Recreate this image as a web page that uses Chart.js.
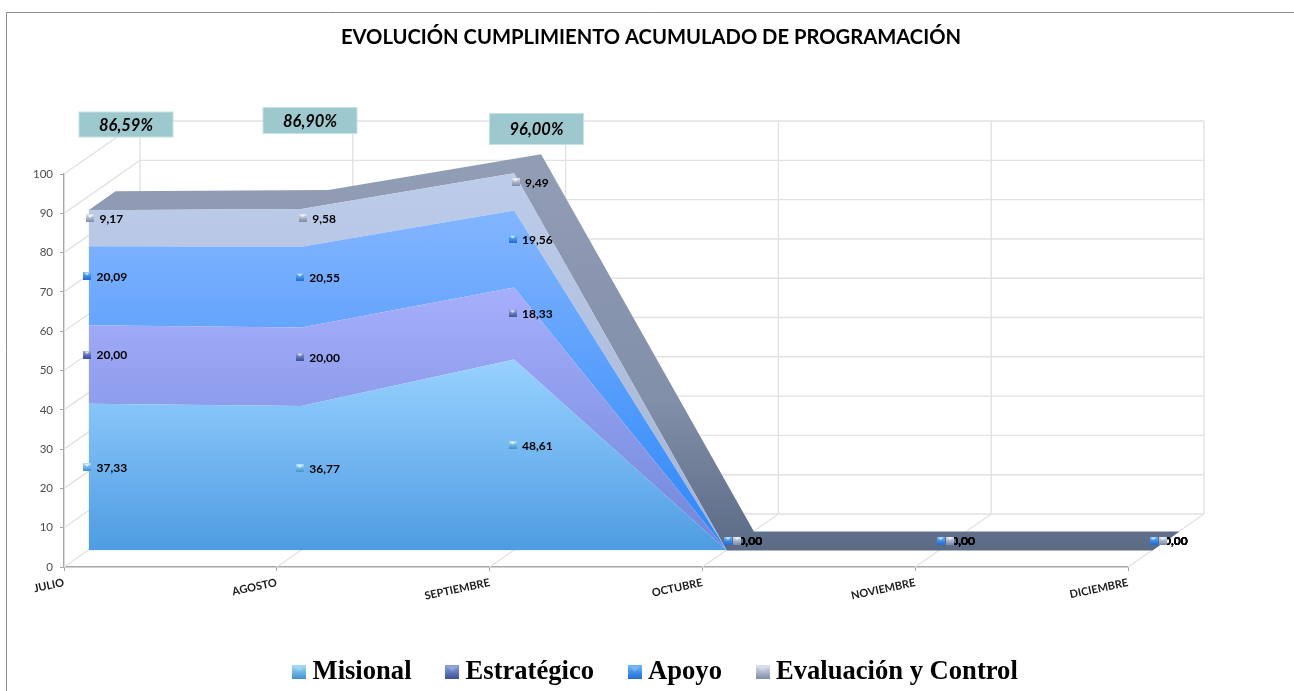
<!DOCTYPE html>
<html>
<head>
<meta charset="utf-8">
<title>Evolución cumplimiento</title>
<script src="https://cdn.jsdelivr.net/npm/chart.js@4"></script>
<style>
    html, body { margin: 0; padding: 0; background: #fff; }
    canvas { display: block; }
</style>
</head>
<body>
<canvas id="myChart" width="1294" height="691"></canvas>
<script>
/*----------------------------- data ----------------------------*/
const months = ['JULIO', 'AGOSTO', 'SEPTIEMBRE', 'OCTUBRE', 'NOVIEMBRE', 'DICIEMBRE'];
const misional = [37.33, 36.77, 48.61, 0, 0, 0];
const estrategico = [20.00, 20.00, 18.33, 0, 0, 0];
const apoyo = [20.09, 20.55, 19.56, 0, 0, 0];
const evaluacion = [9.17, 9.58, 9.49, 0, 0, 0];
const totalLabels = ['86,59%', '86,90%', '96,00%'];
const seriesNames = ['Misional', 'Estratégico', 'Apoyo', 'Evaluación y Control'];

/*---------------------------- styles ---------------------------*/
// fake 3d: the scales sit on the front of the box, everything else is shifted from them
const areaShift = { x: 24.5, y: -16.5 };
const ribbonDepth = { x: 27, y: -19 };
const wallShift = { x: 76, y: -53 };
const wallColor = '#e2e2e2';
const faceColors = [
    ['#98d1ff', '#4e9ce2'],
    ['#a6affc', '#6f86d8'],
    ['#83b5ff', '#2b86f8'],
    ['#bdcce9', '#a3b3d3']
];
const markerColors = [
    ['#a4dcf8', '#3f8fcb'],
    ['#8fa3e0', '#3c4e96'],
    ['#6cb6f6', '#1f6cd8'],
    ['#dde3ee', '#7d8aa9']
];
const markerDx = [23, 23, 23, 26];
const zeroMarkerDx = [25.5, 25.5, 25.5, 34.7];
const markerLift = -26.5;
// label boxes over the first three months
const boxes = [
    { x: 79, y: 112, w: 94, h: 25 },
    { x: 263, y: 107.5, w: 94, h: 26 },
    { x: 489.5, y: 113.5, w: 94, h: 31 }
];

function makeMarker(size, colors, shine) {
    const c = document.createElement('canvas');
    c.width = size;
    c.height = size;
    const g = c.getContext('2d');
    const grad = g.createLinearGradient(0, 0, 0, size);
    grad.addColorStop(0, colors[0]);
    grad.addColorStop(1, colors[1]);
    g.fillStyle = grad;
    g.fillRect(0, 0, size, size);
    // little shine at the top
    g.fillStyle = 'rgba(255,255,255,' + shine + ')';
    g.beginPath();
    g.moveTo(size * 0.12, size * 0.1);
    g.lineTo(size * 0.88, size * 0.1);
    g.lineTo(size * 0.5, size * 0.45);
    g.closePath();
    g.fill();
    return c;
}

function faceGradient(index) {
    return function (ctx) {
        const chart = ctx.chart;
        if (!chart.chartArea) return faceColors[index][0];
        const yScale = chart.scales.y;
        // the gradient runs from the highest top of this layer to the floor
        let top = 0;
        allSeries[0].forEach(function (v, i) {
            let sum = 0;
            for (let s = 0; s <= index; s++) sum += allSeries[s][i];
            top = Math.max(top, sum);
        });
        const grad = chart.ctx.createLinearGradient(0, yScale.getPixelForValue(top), 0, yScale.getPixelForValue(0));
        grad.addColorStop(0, faceColors[index][0]);
        grad.addColorStop(1, faceColors[index][1]);
        return grad;
    };
}

const allSeries = [misional, estrategico, apoyo, evaluacion];

/*---------------------------- plugin ---------------------------*/
const boxPlugin = {
    id: 'box3d',
    afterLayout(chart) {
        // title and legend are not centred on the canvas in the original
        chart.titleBlock.left += 87;
        chart.titleBlock.right += 87;
        chart.legend.left += 94.5;
        chart.legend.right += 94.5;
        chart.legend.top += 4.5;
        chart.legend.bottom += 4.5;
    },
    beforeDatasetsDraw(chart) {
        const ctx = chart.ctx;
        const x = chart.scales.x;
        const y = chart.scales.y;
        const y0 = y.getPixelForValue(0);
        const y100 = y.getPixelForValue(100);

        // walls
        ctx.save();
        ctx.strokeStyle = wallColor;
        ctx.lineWidth = 1.4;
        ctx.beginPath();
        y.ticks.forEach(function (t) {
            const py = y.getPixelForValue(t.value);
            ctx.moveTo(x.left, py);
            ctx.lineTo(x.left + wallShift.x, py + wallShift.y);
            ctx.lineTo(x.right + wallShift.x, py + wallShift.y);
        });
        months.forEach(function (m, i) {
            const px = x.getPixelForValue(i);
            ctx.moveTo(px, y0);
            ctx.lineTo(px + wallShift.x, y0 + wallShift.y);
            ctx.lineTo(px + wallShift.x, y100 + wallShift.y);
        });
        ctx.stroke();
        ctx.restore();

        // everything from here to afterDatasetsDraw sits on the area plane
        ctx.save();
        ctx.translate(areaShift.x, areaShift.y);

        // ribbon behind the top of the stack
        const pts = chart.getDatasetMeta(allSeries.length - 1).data;
        const grad = ctx.createLinearGradient(0, y.getPixelForValue(96), 0, y0);
        grad.addColorStop(0, '#919cb5');
        grad.addColorStop(0.6, '#828fa9');
        grad.addColorStop(1, '#5b6a85');
        ctx.fillStyle = grad;
        ctx.beginPath();
        pts.forEach(function (p, i) {
            if (i === 0) ctx.moveTo(p.x, p.y);
            else ctx.lineTo(p.x, p.y);
        });
        for (let i = pts.length - 1; i >= 0; i--) {
            ctx.lineTo(pts[i].x + ribbonDepth.x, pts[i].y + ribbonDepth.y);
        }
        ctx.closePath();
        ctx.fill();
    },
    afterDatasetsDraw(chart) {
        const ctx = chart.ctx;
        ctx.restore();
        const x = chart.scales.x;
        const y = chart.scales.y;

        // value labels first, the markers overlap the zero ones
        ctx.save();
        ctx.font = 'bold 12px Lato';
        ctx.fillStyle = '#000';
        ctx.textAlign = 'left';
        ctx.textBaseline = 'middle';
        allSeries.forEach(function (values, s) {
            values.forEach(function (v, i) {
                let base = 0;
                for (let k = 0; k < s; k++) base += allSeries[k][i];
                const py = y.getPixelForValue(base + v / 2) + markerLift;
                const px = x.getPixelForValue(i) + (v === 0 ? zeroMarkerDx[s] : markerDx[s]);
                const labelX = v === 0 ? x.getPixelForValue(i) + 36 : px + 9.5;
                ctx.fillText(v.toFixed(2).replace('.', ','), labelX, py + 1);
            });
        });
        allSeries.forEach(function (values, s) {
            values.forEach(function (v, i) {
                let base = 0;
                for (let k = 0; k < s; k++) base += allSeries[k][i];
                const py = y.getPixelForValue(base + v / 2) + markerLift;
                const px = x.getPixelForValue(i) + (v === 0 ? zeroMarkerDx[s] : markerDx[s]);
                ctx.drawImage(smallMarkers[s], px - 4, py - 4);
            });
        });

        // totals
        ctx.textAlign = 'center';
        ctx.font = 'italic bold 16.5px Lato';
        totalLabels.forEach(function (t, i) {
            const b = boxes[i];
            ctx.fillStyle = '#9cc8ce';
            ctx.fillRect(b.x, b.y, b.w, b.h);
            ctx.strokeStyle = '#c5e2e4';
            ctx.lineWidth = 1;
            ctx.strokeRect(b.x, b.y, b.w, b.h);
            ctx.fillStyle = '#000';
            ctx.fillText(t, b.x + b.w / 2, b.y + b.h / 2 + 1);
        });

        // frame of the pasted picture
        ctx.strokeStyle = '#8c8c8c';
        ctx.lineWidth = 1;
        ctx.beginPath();
        ctx.moveTo(6.5, 691);
        ctx.lineTo(6.5, 12.5);
        ctx.lineTo(1294, 12.5);
        ctx.stroke();
        ctx.restore();
    }
};

const smallMarkers = markerColors.map(function (c) { return makeMarker(8, c, 0.75); });
const legendMarkers = markerColors.map(function (c) { return makeMarker(14, c, 0.2); });

/*----------------------------- chart ---------------------------*/
const plotBottom = 567;

const myChart = new Chart(document.getElementById('myChart'), {
    type: 'line',
    plugins: [boxPlugin],
    data: {
        labels: months,
        datasets: allSeries.map(function (values, s) {
            return {
                label: seriesNames[s],
                data: values,
                fill: s === 0 ? 'origin' : '-1',
                backgroundColor: faceGradient(s),
                borderWidth: 0,
                pointRadius: 0,
                pointStyle: legendMarkers[s],
                tension: 0,
                clip: false
            };
        })
    },
    options: {
        responsive: false,
        animation: false,
        layout: { padding: { left: 0, right: 166, top: 0, bottom: 0 } },
        plugins: {
            tooltip: { enabled: false },
            title: {
                display: true,
                text: 'EVOLUCIÓN CUMPLIMIENTO ACUMULADO DE PROGRAMACIÓN',
                color: '#000',
                font: { family: 'Lato', size: 20.2, weight: 'bold', lineHeight: 1.2 },
                padding: { top: 24.9, bottom: 124.9 }
            },
            legend: {
                display: true,
                position: 'bottom',
                labels: {
                    usePointStyle: true,
                    // the marker is centred on the start of the item, so it needs next to no box
                    boxWidth: 0.01,
                    padding: 40.7,
                    color: '#000',
                    font: { family: '"Liberation Serif"', size: 26.6, weight: 'bold' }
                }
            }
        },
        scales: {
            x: {
                type: 'category',
                offset: false,
                afterFit(scale) {
                    scale.height = scale.chart.height - scale.chart.legend.height - plotBottom;
                },
                grid: { drawOnChartArea: false, drawTicks: true, tickLength: 4, tickColor: '#a6a6a6' },
                border: { color: '#a6a6a6', width: 1.4 },
                ticks: {
                    autoSkip: false,
                    minRotation: 12,
                    maxRotation: 12,
                    padding: 5,
                    color: '#1a1a1a',
                    font: { family: 'Lato', size: 11, weight: 'bold' }
                }
            },
            y: {
                stacked: true,
                min: 0,
                max: 100,
                afterFit(scale) { scale.width = 64; },
                grid: { drawOnChartArea: false, drawTicks: true, tickLength: 4, tickColor: '#a6a6a6' },
                border: { color: '#a6a6a6', width: 1.4 },
                ticks: {
                    stepSize: 10,
                    padding: 7,
                    color: '#4d4d4d',
                    font: { family: 'Lato', size: 11.5 }
                }
            }
        }
    }
});
</script>
</body>
</html>
